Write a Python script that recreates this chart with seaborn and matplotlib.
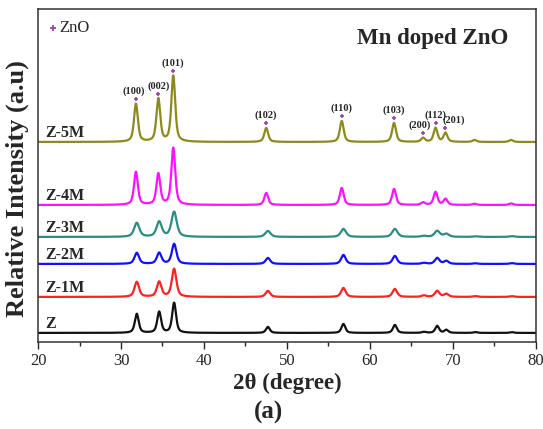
import numpy as np
import pandas as pd
import matplotlib
matplotlib.use("Agg")
import matplotlib.pyplot as plt
import seaborn as sns

# ---- data ----
samples = ["Z", "Z-1M", "Z-2M", "Z-3M", "Z-4M", "Z-5M"]
colors = ["#111111", "#ff2020", "#1010ff", "#2a8c85", "#ff10ff", "#8c8a1c"]
offsets = [9, 45, 78, 105, 137, 200]          # vertical stacking offsets (a.u.)
fwhm = [0.55, 0.65, 0.65, 0.75, 0.55, 0.55]

# peak centres (2θ) per sample
pos_lo = [31.9, 34.6, 36.4, 47.7, 56.8, 63.0, 66.5, 68.1, 69.2, 72.7, 77.1]
pos_hi = [31.8, 34.5, 36.3, 47.5, 56.6, 62.9, 66.4, 67.9, 69.1, 72.6, 77.0]
# peak heights per sample (same order as positions)
heights = {
    "Z":    [19, 21, 30, 6, 9, 8, 1.0, 7, 3, 0.8, 0.8],
    "Z-1M": [15, 15, 28, 6, 9, 8, 1.5, 6, 3, 0.8, 0.8],
    "Z-2M": [11, 11, 20, 6, 9, 8, 1.0, 6, 3, 0.6, 0.8],
    "Z-3M": [14, 15, 25, 6, 8, 8, 1.0, 6, 3, 0.6, 0.8],
    "Z-4M": [33, 31, 57, 12, 17, 16, 2.5, 13, 6, 1.2, 1.5],
    "Z-5M": [38, 43, 66, 14, 21, 19, 4.0, 14, 9, 2.0, 2.0],
}
hkl = ["(100)", "(002)", "(101)", "(102)", "(110)", "(103)", "(200)", "(112)", "(201)"]
x_ticks = [20, 30, 40, 50, 60, 70, 80]

# ---- build profiles ----
two_theta = np.linspace(20, 80, 3000)

def profile(centres, amps, w):
    y = np.zeros_like(two_theta)
    g = w / 2
    for c, a in zip(centres, amps):
        lor = g**2 / ((two_theta - c)**2 + g**2)
        gau = np.exp(-4 * np.log(2) * (two_theta - c)**2 / w**2)
        y += a * (0.6 * lor + 0.4 * gau)
    return y

frames = []
for i, s in enumerate(samples):
    centres = pos_hi if s in ("Z-4M", "Z-5M") else pos_lo
    y = profile(centres, heights[s], fwhm[i]) + offsets[i]
    frames.append(pd.DataFrame({"2theta": two_theta, "I": y, "sample": s}))
df = pd.concat(frames, ignore_index=True)

# ---- plot ----
sns.set_style("white")
plt.rcParams["font.family"] = ["Liberation Serif", "DejaVu Serif"]
fig = plt.figure(figsize=(5.43, 4.29), dpi=100)
ax = fig.add_axes([0.070, 0.203, 0.917, 0.776])

sns.lineplot(data=df, x="2theta", y="I", hue="sample", palette=dict(zip(samples, colors)),
             hue_order=samples, legend=False, estimator=None, sort=False, lw=1.6, ax=ax)

ax.set_xlim(20, 80)
ax.set_ylim(0, 333)
ax.set_xticks(x_ticks)
ax.set_xticks(np.arange(25, 80, 10), minor=True)
ax.set_yticks([])
ax.tick_params(axis="x", which="major", direction="out", length=5, width=1, labelsize=12,
               bottom=True, pad=3)
ax.tick_params(axis="x", which="minor", direction="out", length=3, width=1, bottom=True)
for sp in ax.spines.values():
    sp.set_color("#333333")
    sp.set_linewidth(1.1)

ax.set_xlabel("2θ (degree)", fontsize=16.5, fontweight="bold", labelpad=3)
ax.set_ylabel("Relative Intensity (a.u)", fontsize=19, fontweight="bold")
ax.yaxis.set_label_coords(-0.018, 0.46)
fig.text(0.494, 0.012, "(a)", fontsize=18, fontweight="bold", ha="center", va="bottom")

# sample labels
for i, s in enumerate(samples):
    ax.text(20.85, offsets[i] + 9, s, fontsize=11.5, fontweight="bold", va="center", ha="left")

# title
ax.text(0.945, 0.91, "Mn doped ZnO", transform=ax.transAxes, fontsize=16.5,
        fontweight="bold", ha="right", va="center")

# ZnO legend
mk = "#a040b0"
ax.plot([21.75], [314], marker="+", ms=4, mew=1.3, color=mk, ls="none")
ax.text(22.6, 314, "ZnO", fontsize=12, va="center", ha="left")

# hkl annotations on Z-5M
top = offsets[-1]
for j, lab in enumerate(hkl):
    c = pos_hi[j]
    peak = top + heights["Z-5M"][j]
    ax.plot([c], [peak + 5], marker="+", ms=3.5, mew=1.2, color=mk, ls="none")
    dx = 0.0
    if lab == "(201)":
        dx = 1.0
    if lab == "(200)":
        dx = -0.4
    if lab == "(100)":
        dx = -0.3
    ax.text(c + dx, peak + 8, lab, fontsize=7.5, fontweight="bold", ha="center", va="bottom")

fig.savefig("out.png", dpi=100)
